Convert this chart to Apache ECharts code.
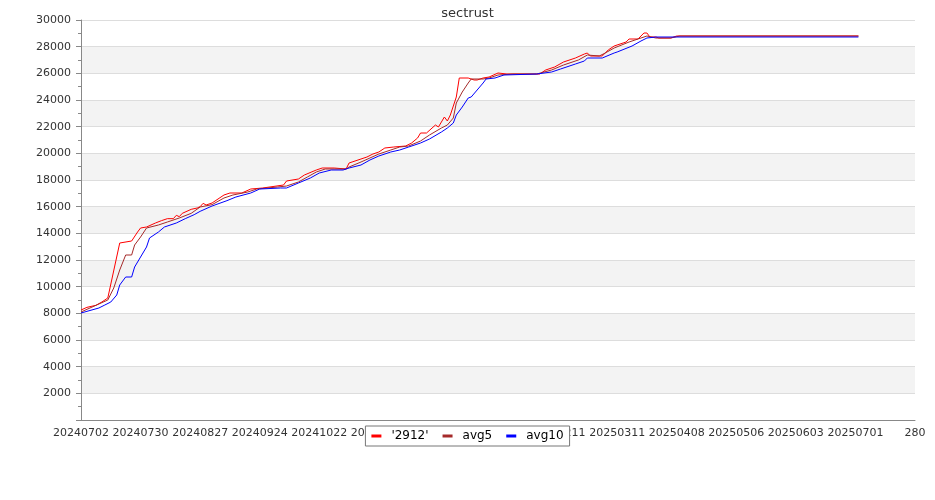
<!DOCTYPE html>
<html>
<head>
<meta charset="utf-8">
<script src="https://cdn.jsdelivr.net/npm/echarts@6/dist/echarts.min.js"></script>
<style>html,body{margin:0;padding:0;background:#fff}#c{width:935px;height:500px}</style>
</head>
<body>
<div id="c"></div>
<script>
// x positions are weekday indices from 20240702
const tickLabels = ['20240702','20240730','20240827','20240924','20241022','20241119','20241217','20250114','20250211','20250311','20250408','20250506','20250603','20250701','280'];

const priceIdx = [0,2,5,7,9,13,17,19,20,22,25,27,29,31,32,33,34,37,39,40,41,42,44,48,50,54,57,61,68,69,73,75,79,81,85,89,90,91,94,96,98,100,102,105,109,111,113,114,116,119,120,122,123,124,126,127,130,132,133,135,137,140,143,154,156,159,162,166,169,170,171,175,177,179,182,183,184,187,189,190,191,193,194,198,200,261];
const priceVal = [8250,8450,8600,8850,9150,13275,13425,14100,14400,14475,14775,14950,15100,15100,15350,15250,15500,15800,15900,16000,16250,16125,16275,16875,17025,17025,17325,17400,17625,17925,18075,18375,18750,18900,18900,18825,19275,19350,19575,19725,19950,20100,20400,20475,20550,20775,21150,21525,21525,22125,21975,22725,22425,22875,24225,25650,25650,25500,25500,25650,25725,26025,25950,25950,26250,26475,26850,27150,27450,27525,27300,27300,27750,28050,28275,28350,28575,28575,29025,29025,28725,28725,28650,28650,28800,28800];

const avg5Idx = [0,9,11,13,15,17,18,20,22,26,29,33,37,40,44,48,51,56,59,66,69,73,76,79,82,89,90,94,97,100,104,107,110,114,117,121,123,125,126,128,130,131,135,137,140,145,153,158,162,167,170,174,176,179,184,188,190,193,198,201,261];
const avg5Val = [8100,9000,9900,11250,12375,12375,13125,13725,14400,14625,14850,15150,15500,15975,16150,16650,16875,17100,17325,17475,17550,17850,18225,18600,18825,18825,18975,19350,19650,19950,20250,20475,20550,20925,21375,21900,22125,22650,23775,24600,25275,25575,25575,25650,25875,25950,25950,26250,26625,27000,27375,27300,27525,27900,28350,28650,28800,28650,28650,28800,28800];

const avg10Idx = [0,6,8,10,12,13,15,17,18,20,22,23,26,28,32,35,38,40,44,49,52,57,60,67,69,73,77,80,84,88,90,94,97,100,104,107,110,114,117,121,123,125,126,128,130,131,133,135,136,139,142,153,158,161,166,169,170,175,179,180,185,188,190,193,200,261];
const avg10Val = [8025,8400,8625,8850,9375,10125,10725,10725,11475,12225,12975,13650,14100,14475,14775,15100,15400,15650,16050,16450,16725,17025,17325,17400,17400,17775,18150,18525,18750,18750,18900,19125,19500,19800,20100,20250,20475,20775,21075,21600,21900,22275,22875,23475,24150,24225,24750,25275,25575,25650,25875,25950,26100,26325,26700,26925,27150,27150,27525,27600,28050,28425,28650,28725,28725,28725];

function pairs(xs, ys){ return xs.map((x,i)=>[x, ys[i]]); }

const chart = echarts.init(document.getElementById('c'), null, {renderer:'canvas'});
const font = 'DejaVu Sans';
chart.setOption({
  animation:false,
  backgroundColor:'#fff',
  title:{text:'sectrust', left:'center', top:2, textStyle:{fontFamily:font, fontSize:13, fontWeight:'normal', color:'#333'}},
  grid:{left:81, right:20, top:20, bottom:80},
  legend:{
    bottom:54, left:'center',
    backgroundColor:'#fff', borderColor:'#777', borderWidth:1, borderRadius:0,
    padding:[4,6,4,6], itemGap:14, itemWidth:10, itemHeight:3, icon:'rect',
    textStyle:{fontFamily:font, fontSize:12, color:'#000', padding:[0,0,0,5]},
    data:['\'2912\'','avg5','avg10']
  },
  xAxis:{
    type:'value', min:0, max:280, interval:20,
    axisLine:{show:true, lineStyle:{color:'#888'}},
    axisTick:{show:false},
    splitLine:{show:false},
    axisLabel:{fontFamily:font, fontSize:11, color:'#333', margin:8,
      formatter:v=>tickLabels[Math.round(v/20)] || ''}
  },
  yAxis:{
    type:'value', min:0, max:30000, interval:2000,
    axisLine:{show:true, lineStyle:{color:'#888'}},
    axisTick:{show:true, length:5, lineStyle:{color:'#888'}},
    minorTick:{show:true, splitNumber:2, length:3, lineStyle:{color:'#888'}},
    splitLine:{show:true, lineStyle:{color:'#ddd'}},
    splitArea:{show:true, areaStyle:{color:['#ffffff','#f3f3f3']}},
    axisLabel:{fontFamily:font, fontSize:11, color:'#333', margin:10, showMinLabel:false,
      formatter:v=>String(v)}
  },
  series:[
    {name:'\'2912\'', type:'line', data:pairs(priceIdx, priceVal), showSymbol:false, lineStyle:{width:1, color:'#ff0000'}, itemStyle:{color:'#ff0000'}},
    {name:'avg5', type:'line', data:pairs(avg5Idx, avg5Val), showSymbol:false, lineStyle:{width:1, color:'#a52a2a'}, itemStyle:{color:'#a52a2a'}},
    {name:'avg10', type:'line', data:pairs(avg10Idx, avg10Val), showSymbol:false, lineStyle:{width:1, color:'#0000ff'}, itemStyle:{color:'#0000ff'}}
  ]
});
</script>
</body>
</html>
